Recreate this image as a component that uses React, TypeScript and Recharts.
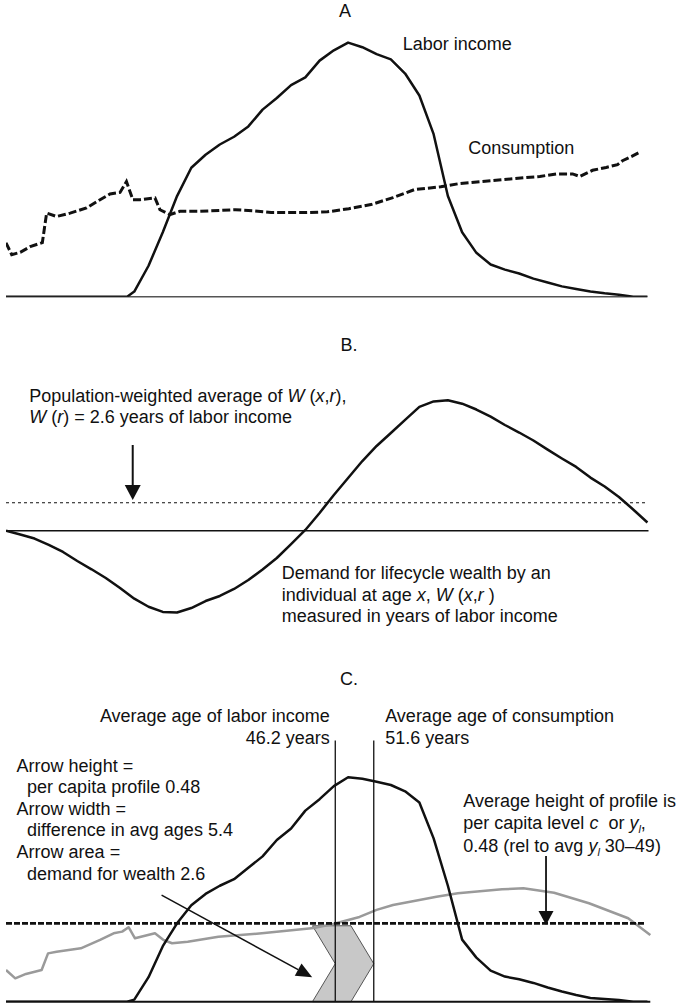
import React from 'react';
import { LineChart, Line, XAxis, YAxis, ReferenceLine, ReferenceArea } from 'recharts';

// age grid shared by the labor income profiles (A and C)
const laborAges = [0, 8, 16, 17, 18, 20, 22, 24, 26, 28, 30, 32, 34, 36, 38, 40, 42, 44, 46, 48, 50, 52, 54, 56, 58, 60, 62, 64, 66, 68, 70, 72, 74, 76, 78, 80, 82, 84, 86, 88, 90];
const laborA = [0, 0, 0, 0, 0.02, 0.12, 0.25, 0.39, 0.5, 0.55, 0.59, 0.62, 0.66, 0.725, 0.77, 0.82, 0.85, 0.915, 0.955, 0.985, 0.967, 0.94, 0.92, 0.865, 0.78, 0.63, 0.39, 0.25, 0.17, 0.125, 0.105, 0.09, 0.07, 0.055, 0.04, 0.03, 0.02, 0.013, 0.008, 0, 0];
const laborC = [0, 0, 0, 0, 0.013, 0.15, 0.34, 0.48, 0.59, 0.66, 0.71, 0.75, 0.82, 0.89, 0.99, 1.06, 1.17, 1.24, 1.32, 1.374, 1.365, 1.347, 1.327, 1.288, 1.22, 1.0, 0.71, 0.38, 0.27, 0.19, 0.154, 0.137, 0.115, 0.087, 0.062, 0.041, 0.023, 0.016, 0.01, 0, 0];

// consumption, panel A
const consAAges = [0, 0.8, 2.0, 3.4, 5.1, 5.7, 7.1, 9.0, 11.3, 13.2, 14.6, 16.0, 16.9, 17.8, 18.8, 20.9, 21.6, 23.0, 24.4, 27.2, 32.2, 34.6, 37.2, 42.1, 45.1, 48.1, 51.2, 54.3, 57.3, 61.0, 63.5, 69.5, 72.6, 74.9, 77.2, 79.5, 80.5, 82.3, 84.2, 85.8, 86.5, 87.8, 89.1];
const consA = [0.209, 0.163, 0.172, 0.194, 0.21, 0.324, 0.311, 0.324, 0.344, 0.376, 0.398, 0.404, 0.446, 0.376, 0.376, 0.383, 0.337, 0.318, 0.331, 0.331, 0.337, 0.333, 0.326, 0.326, 0.329, 0.341, 0.357, 0.384, 0.415, 0.426, 0.438, 0.453, 0.461, 0.466, 0.476, 0.476, 0.466, 0.49, 0.501, 0.512, 0.527, 0.544, 0.563];

// consumption, panel C (grey)
const consCAges = [0, 1.3, 2.8, 5.0, 5.9, 7.1, 10.5, 13.2, 15.1, 16.3, 17.2, 18.1, 20.9, 22.1, 23.3, 25.5, 29.8, 35.9, 43.2, 45.9, 49.6, 52.0, 54.3, 58.0, 60.4, 63.4, 69.6, 72.6, 76.9, 81.8, 87.3, 90.4];
const consC = [0.194, 0.143, 0.17, 0.194, 0.296, 0.306, 0.327, 0.378, 0.419, 0.429, 0.456, 0.388, 0.419, 0.378, 0.358, 0.367, 0.398, 0.419, 0.451, 0.476, 0.519, 0.562, 0.592, 0.623, 0.643, 0.664, 0.688, 0.694, 0.667, 0.603, 0.511, 0.408];

// demand for lifecycle wealth W(x,r), panel B, years of labor income
const wealthAges = [0, 2, 4, 6, 8, 10, 12, 14, 16, 18, 20, 22, 24, 26, 28, 30, 32, 34, 36, 38, 40, 42, 44, 46, 48, 50, 52, 54, 56, 58, 60, 62, 64, 66, 68, 70, 72, 74, 76, 78, 80, 82, 84, 86, 88, 90];
const wealthB = [0, -0.36, -0.73, -1.31, -1.98, -2.82, -3.59, -4.4, -5.33, -6.32, -7.07, -7.55, -7.61, -7.19, -6.54, -6.07, -5.42, -4.59, -3.61, -2.54, -1.24, 0.07, 1.65, 3.32, 4.9, 6.48, 7.88, 9.09, 10.3, 11.51, 12.02, 12.13, 11.81, 11.27, 10.61, 9.83, 9.13, 8.39, 7.54, 6.72, 5.93, 4.94, 4.11, 3.13, 1.97, 0.76];

const avgAgeLabor = 46.2;
const avgAgeCons = 51.6;
const perCapita = 0.48;
const popAvgWealth = 2.6;
const chevronStart = 43.0;
const chevronTop = 0.465;

const FONT = "'Liberation Sans', Arial, Helvetica, sans-serif";
const AGE_DOMAIN: [number, number] = [0, 90.5];
const INK = '#111';

const rows = (ages: number[], vals: number[]) => ages.map((age, i) => ({ age, v: vals[i] }));

// line with a filled triangular head at its end point
const arrow = (head: number, width: number, sw: number) => (p: any) => {
  const { x1, y1, x2, y2 } = p;
  const a = Math.atan2(y2 - y1, x2 - x1);
  const bx = x2 - head * Math.cos(a);
  const by = y2 - head * Math.sin(a);
  const nx = (-Math.sin(a) * width) / 2;
  const ny = (Math.cos(a) * width) / 2;
  return (
    <g>
      <line x1={x1} y1={y1} x2={bx} y2={by} stroke={INK} strokeWidth={sw} />
      <polygon points={`${x2},${y2} ${bx + nx},${by + ny} ${bx - nx},${by - ny}`} fill={INK} />
    </g>
  );
};

const chevron = (p: any) => {
  const { x, y, width, height } = p;
  const d = (width * (avgAgeLabor - chevronStart)) / (avgAgeCons - chevronStart);
  const pts = [
    [x, y],
    [x + width - d, y],
    [x + width, y + height / 2],
    [x + width - d, y + height],
    [x, y + height],
    [x + d, y + height / 2],
  ]
    .map((q) => q.join(','))
    .join(' ');
  return <polygon points={pts} fill="#c8c8c8" stroke="#555" strokeWidth={1} />;
};

const Txt = ({ left, top, right, align, children }: any) => (
  <div
    style={{
      position: 'absolute',
      left,
      right,
      top,
      textAlign: align || 'left',
      fontFamily: FONT,
      fontSize: 18,
      lineHeight: '21.6px',
      color: INK,
      whiteSpace: 'nowrap',
    }}
  >
    {children}
  </div>
);

const Sub = ({ children }: any) => (
  <span style={{ fontSize: 11, position: 'relative', top: 4, fontStyle: 'italic' }}>{children}</span>
);

const yAxisProps = {
  type: 'number' as const,
  width: 0,
  tick: false,
  tickLine: false,
  axisLine: { stroke: '#333', strokeWidth: 1 },
  allowDataOverflow: true,
};

export default function App() {
  return (
    <div style={{ position: 'absolute', left: 0, top: 0, width: 682, height: 1005, background: '#fff' }}>
      {/* Panel A */}
      <div style={{ position: 'absolute', left: 0, top: 0 }}>
        <LineChart width={682} height={310} margin={{ top: 38.7, right: 31, bottom: 13.3, left: 6 }}>
          <XAxis type="number" dataKey="age" domain={AGE_DOMAIN} hide allowDataOverflow />
          <YAxis {...yAxisProps} domain={[0, 1]} />
          <ReferenceLine segment={[{ x: 0, y: 0 }, { x: 90, y: 0 }]} stroke="#555" strokeWidth={1.6} />
          <Line
            data={rows(consAAges, consA)}
            dataKey="v"
            type="linear"
            stroke={INK}
            strokeWidth={3}
            strokeDasharray="8 3"
            dot={false}
            activeDot={false}
            isAnimationActive={false}
          />
          <Line
            data={rows(laborAges, laborA)}
            dataKey="v"
            type="linear"
            stroke={INK}
            strokeWidth={2.5}
            strokeLinejoin="round"
            dot={false}
            activeDot={false}
            isAnimationActive={false}
          />
        </LineChart>
      </div>

      {/* Panel B */}
      <div style={{ position: 'absolute', left: 0, top: 330 }}>
        <LineChart width={682} height={320} margin={{ top: 35, right: 31, bottom: 9.3, left: 6 }}>
          <XAxis type="number" dataKey="age" domain={AGE_DOMAIN} hide allowDataOverflow />
          <YAxis {...yAxisProps} domain={[-10.23, 15.41]} />
          <ReferenceLine segment={[{ x: 0, y: 0 }, { x: 90.15, y: 0 }]} stroke={INK} strokeWidth={1.5} />
          <ReferenceLine
            segment={[{ x: 0, y: popAvgWealth }, { x: 89.8, y: popAvgWealth }]}
            stroke={INK}
            strokeWidth={1.2}
            strokeDasharray="3 3"
          />
          <Line
            data={rows(wealthAges, wealthB)}
            dataKey="v"
            type="linear"
            stroke={INK}
            strokeWidth={2.5}
            strokeLinejoin="round"
            dot={false}
            activeDot={false}
            isAnimationActive={false}
          />
          <ReferenceLine segment={[{ x: 17.78, y: 7.97 }, { x: 17.78, y: 2.85 }]} shape={arrow(15, 16, 2)} />
        </LineChart>
      </div>

      {/* Panel C */}
      <div style={{ position: 'absolute', left: 0, top: 660 }}>
        <LineChart width={682} height={345} margin={{ top: 80.4, right: 31, bottom: 3.3, left: 6 }}>
          <XAxis type="number" dataKey="age" domain={AGE_DOMAIN} hide allowDataOverflow />
          <YAxis {...yAxisProps} domain={[0, 1.6]} />
          <Line
            data={rows(consCAges, consC)}
            dataKey="v"
            type="linear"
            stroke="#9a9a9a"
            strokeWidth={2.5}
            strokeLinejoin="round"
            dot={false}
            activeDot={false}
            isAnimationActive={false}
          />
          <ReferenceLine segment={[{ x: avgAgeLabor, y: 0 }, { x: avgAgeLabor, y: 1.6 }]} stroke={INK} strokeWidth={1.3} />
          <ReferenceArea x1={chevronStart} x2={avgAgeCons} y1={0} y2={chevronTop} shape={chevron} />
          <ReferenceLine segment={[{ x: avgAgeCons, y: 0 }, { x: avgAgeCons, y: 1.6 }]} stroke={INK} strokeWidth={1.3} />
          <ReferenceLine segment={[{ x: 0, y: 0 }, { x: 90.4, y: 0 }]} stroke={INK} strokeWidth={2} />
          <ReferenceLine
            segment={[{ x: 0, y: perCapita }, { x: 89.66, y: perCapita }]}
            stroke={INK}
            strokeWidth={2.7}
            strokeDasharray="6 2"
          />
          <Line
            data={rows(laborAges, laborC)}
            dataKey="v"
            type="linear"
            stroke={INK}
            strokeWidth={2.5}
            strokeLinejoin="round"
            dot={false}
            activeDot={false}
            isAnimationActive={false}
          />
          <ReferenceLine segment={[{ x: 21.83, y: 0.653 }, { x: 42.96, y: 0.149 }]} shape={arrow(16, 14, 1.5)} />
          <ReferenceLine segment={[{ x: 75.77, y: 0.892 }, { x: 75.77, y: 0.47 }]} shape={arrow(14, 15, 1.8)} />
        </LineChart>
      </div>

      {/* titles and annotations */}
      <Txt left={325} top={1.3} align="center">
        <span style={{ display: 'inline-block', width: 40 }}>A</span>
      </Txt>
      <Txt left={329} top={335.3}>
        <span style={{ display: 'inline-block', width: 40, textAlign: 'center' }}>B.</span>
      </Txt>
      <Txt left={329} top={668.7}>
        <span style={{ display: 'inline-block', width: 40, textAlign: 'center' }}>C.</span>
      </Txt>

      <Txt left={402.7} top={34}>Labor income</Txt>
      <Txt left={468.3} top={138}>Consumption</Txt>

      <Txt left={29.3} top={385.7}>
        <div>
          Population-weighted average of <i>W</i> (<i>x</i>,<i>r</i>),
        </div>
        <div>
          <i>W</i> (<i>r</i>) = 2.6 years of labor income
        </div>
      </Txt>
      <Txt left={281.7} top={563}>
        <div>Demand for lifecycle wealth by an</div>
        <div>
          individual at age <i>x</i>, <i>W</i> (<i>x</i>,<i>r</i> )
        </div>
        <div>measured in years of labor income</div>
      </Txt>

      <Txt right={352.3} top={706.3} align="right">
        <div>Average age of labor income</div>
        <div>46.2 years</div>
      </Txt>
      <Txt left={385.2} top={706.3}>
        <div>Average age of consumption</div>
        <div>51.6 years</div>
      </Txt>

      <Txt left={16.6} top={755.7}>
        <div>Arrow height =</div>
        <div style={{ paddingLeft: 10.5 }}>per capita profile 0.48</div>
        <div>Arrow width =</div>
        <div style={{ paddingLeft: 10.5 }}>difference in avg ages 5.4</div>
        <div>Arrow area =</div>
        <div style={{ paddingLeft: 10.5 }}>demand for wealth 2.6</div>
      </Txt>

      <Txt left={463.3} top={791.3}>
        <div>Average height of profile is</div>
        <div>
          per capita level <i>c</i>&nbsp; or <i>y</i>
          <Sub>l</Sub>,
        </div>
        <div>
          0.48 (rel to avg <i>y</i>
          <Sub>l</Sub> 30–49)
        </div>
      </Txt>
    </div>
  );
}
